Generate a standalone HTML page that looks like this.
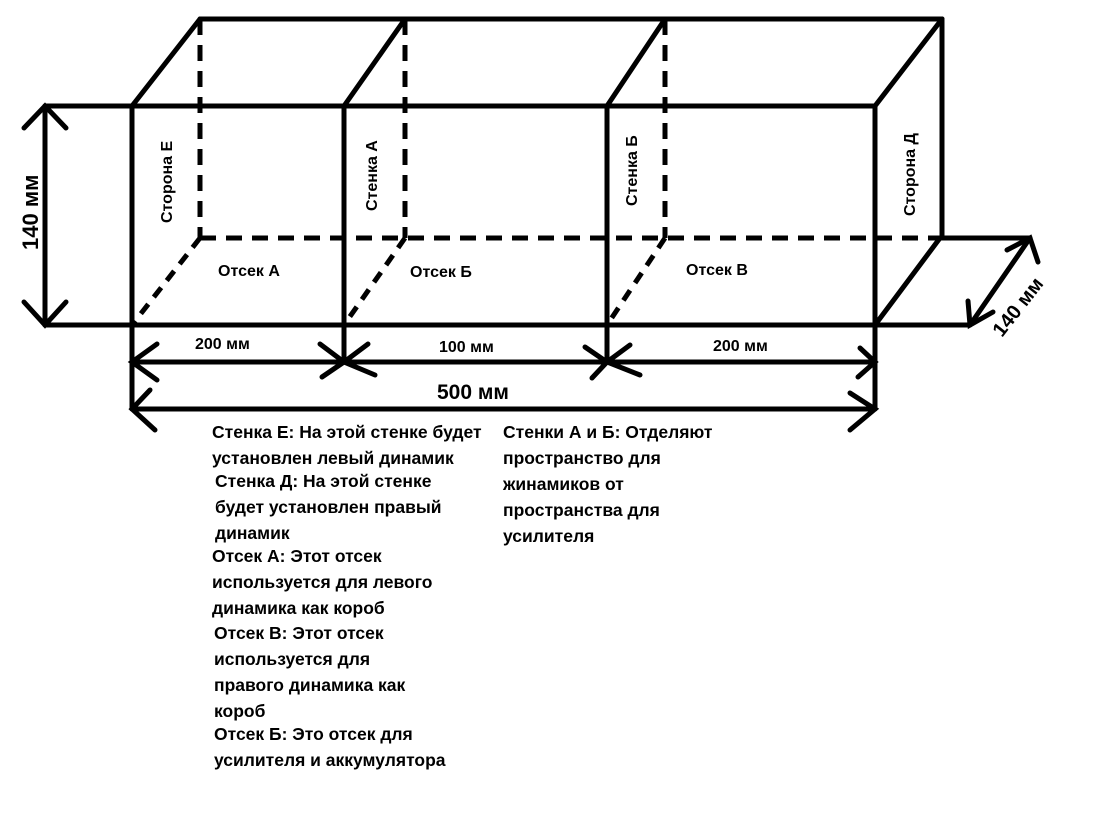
<!DOCTYPE html>
<html><head><meta charset="utf-8"><style>
body{margin:0;background:#fff;}
svg{display:block}
text{font-family:"Liberation Sans",sans-serif;font-weight:bold;fill:#000}
.t{font-size:16px}
.n{font-size:17.5px}
</style></head><body>
<svg width="1095" height="822" viewBox="0 0 1095 822">
<g stroke="#000" stroke-width="5" fill="none" stroke-linecap="round">
<line x1="200" y1="19" x2="942" y2="19"/>
<line x1="942" y1="19" x2="942" y2="238"/>
<line x1="45" y1="106" x2="875" y2="106"/>
<line x1="45" y1="325" x2="970" y2="325"/>
<line x1="132" y1="106" x2="132" y2="409"/>
<line x1="344" y1="106" x2="344" y2="362"/>
<line x1="607" y1="106" x2="607" y2="362"/>
<line x1="875" y1="106" x2="875" y2="409"/>
<line x1="132" y1="106" x2="200" y2="19"/>
<line x1="344" y1="106" x2="405" y2="19"/>
<line x1="607" y1="106" x2="665" y2="19"/>
<line x1="875" y1="106" x2="942" y2="19"/>
<line x1="875" y1="325" x2="940" y2="238"/>
<line x1="940" y1="238" x2="1030" y2="238"/>
<line x1="45" y1="106" x2="45" y2="325"/>
<polyline points="24,128 45,106 66,128"/>
<polyline points="24,302 45,325 66,302"/>
<line x1="1030" y1="238" x2="970" y2="325"/>
<polyline points="1007,250 1030,238 1038,262"/>
<polyline points="968,301 970,325 993,312"/>
<line x1="132" y1="362" x2="875" y2="362"/>
<line x1="132" y1="409" x2="875" y2="409"/>
<polyline points="157,344 132,362 157,380"/>
<polyline points="320,344 344,362 322,377"/>
<polyline points="368,344 344,362 375,375"/>
<polyline points="585,347 607,362 592,378"/>
<polyline points="630,345 607,362 640,375"/>
<polyline points="860,348 875,362 858,377"/>
<polyline points="150,390 132,409 155,430"/>
<polyline points="850,393 875,409 850,430"/>
</g>
<g stroke="#000" stroke-width="5" fill="none" stroke-dasharray="16,10">
<line x1="200" y1="19" x2="200" y2="238"/>
<line x1="405" y1="19" x2="405" y2="238"/>
<line x1="665" y1="19" x2="665" y2="238"/>
<line x1="200" y1="238" x2="940" y2="238"/>
<line x1="200" y1="238" x2="132" y2="325" stroke-dasharray="12,9"/>
<line x1="405" y1="238" x2="344" y2="325" stroke-dasharray="12,9"/>
<line x1="665" y1="238" x2="607" y2="325" stroke-dasharray="12,9"/>
</g>
<text class="t" x="218" y="276">Отсек А</text>
<text class="t" x="410" y="277">Отсек Б</text>
<text class="t" x="686" y="275">Отсек В</text>
<text class="t" x="195" y="349">200 мм</text>
<text class="t" x="439" y="352">100 мм</text>
<text class="t" x="713" y="351">200 мм</text>
<text x="437" y="399" font-size="21">500 мм</text>
<text x="0" y="0" font-size="22" transform="translate(38,250) rotate(-90)">140 мм</text>
<text class="t" transform="translate(172,223) rotate(-90)">Сторона Е</text>
<text class="t" transform="translate(377,211) rotate(-90)">Стенка А</text>
<text class="t" transform="translate(637,206) rotate(-90)">Стенка Б</text>
<text class="t" transform="translate(915,216) rotate(-90)">Сторона Д</text>
<text x="0" y="0" font-size="20" transform="translate(1002,338) rotate(-52)">140 мм</text>
<text class="n" x="212" y="438">Стенка Е: На этой стенке будет</text>
<text class="n" x="212" y="464">установлен левый динамик</text>
<text class="n" x="215" y="487">Стенка Д: На этой стенке</text>
<text class="n" x="215" y="513">будет установлен правый</text>
<text class="n" x="215" y="539">динамик</text>
<text class="n" x="212" y="562">Отсек А: Этот отсек</text>
<text class="n" x="212" y="588">используется для левого</text>
<text class="n" x="212" y="614">динамика как короб</text>
<text class="n" x="214" y="639">Отсек В: Этот отсек</text>
<text class="n" x="214" y="665">используется для</text>
<text class="n" x="214" y="691">правого динамика как</text>
<text class="n" x="214" y="717">короб</text>
<text class="n" x="214" y="740">Отсек Б: Это отсек для</text>
<text class="n" x="214" y="766">усилителя и аккумулятора</text>
<text class="n" x="503" y="438">Стенки А и Б: Отделяют</text>
<text class="n" x="503" y="464">пространство для</text>
<text class="n" x="503" y="490">жинамиков от</text>
<text class="n" x="503" y="516">пространства для</text>
<text class="n" x="503" y="542">усилителя</text>
</svg>
</body></html>
